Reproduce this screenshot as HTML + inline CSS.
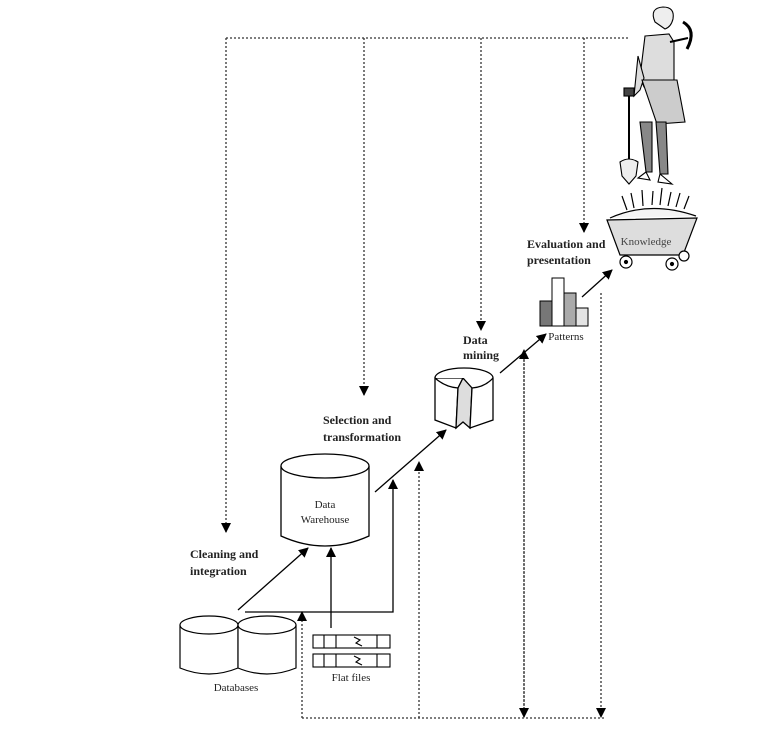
<!DOCTYPE html>
<html><head><meta charset="utf-8"><style>
html,body{margin:0;padding:0;background:#fff;}
svg{display:block;}
text{font-family:"Liberation Serif",serif;fill:#222;}
.b{font-weight:bold;font-size:12px;}
.n{font-size:11px;}
</style></head><body>
<svg width="771" height="737" viewBox="0 0 771 737" xmlns="http://www.w3.org/2000/svg">
<defs>
<marker id="a" markerWidth="10" markerHeight="10" refX="9" refY="5" orient="auto" markerUnits="userSpaceOnUse">
<path d="M0,0 L10,5 L0,10 z" fill="#000"/></marker>
</defs>
<g fill="none" stroke="#333" stroke-width="1.3" stroke-dasharray="2,2">
<path d="M226,38 H628"/>
<path d="M226,38 V532" marker-end="url(#a)"/>
<path d="M364,38 V395" marker-end="url(#a)"/>
<path d="M481,38 V330" marker-end="url(#a)"/>
<path d="M584,38 V232" marker-end="url(#a)"/>
<path d="M302,718 H606"/>
<path d="M302,718 V612" marker-end="url(#a)"/>
<path d="M419,718 V462" marker-end="url(#a)"/>
<path d="M524,713 V350" marker-end="url(#a)"/>
<path d="M524,360 V717" marker-end="url(#a)"/>
<path d="M601,293 V717" marker-end="url(#a)"/>
</g>
<g fill="none" stroke="#000" stroke-width="1.3">
<path d="M238,610 L308,548" marker-end="url(#a)"/>
<path d="M245,612 H393 V480" marker-end="url(#a)"/>
<path d="M331,628 V548" marker-end="url(#a)"/>
<path d="M375,492 L446,430" marker-end="url(#a)"/>
<path d="M500,373 L546,334" marker-end="url(#a)"/>
<path d="M582,297 L612,270" marker-end="url(#a)"/>
</g>
<!-- databases -->
<g fill="#fff" stroke="#000" stroke-width="1.2">
<path d="M180,625 V668 Q209,680 238,668 V625"/>
<ellipse cx="209" cy="625" rx="29" ry="9"/>
<path d="M238,625 V668 Q267,680 296,668 V625"/>
<ellipse cx="267" cy="625" rx="29" ry="9"/>
</g>
<text class="n" x="236" y="691" text-anchor="middle">Databases</text>
<!-- flat files -->
<g fill="#fff" stroke="#000" stroke-width="1.1">
<rect x="313" y="635" width="77" height="13"/>
<rect x="313" y="654" width="77" height="13"/>
<path d="M324,635v13M336,635v13M377,635v13M324,654v13M336,654v13M377,654v13"/>
<path d="M354,637 l6,3 -4,3 6,3M354,656 l6,3 -4,3 6,3"/>
</g>
<text class="n" x="351" y="681" text-anchor="middle">Flat files</text>
<!-- warehouse -->
<g fill="#fff" stroke="#000" stroke-width="1.3">
<path d="M281,466 V536 Q325,556 369,536 V466"/>
<ellipse cx="325" cy="466" rx="44" ry="12"/>
</g>
<text class="n" x="325" y="508" text-anchor="middle">Data</text>
<text class="n" x="325" y="523" text-anchor="middle">Warehouse</text>
<!-- data mining -->
<g stroke="#000" stroke-width="1.3">
<path d="M435,378 V420 L456,428 L458,388 L463,378 Z" fill="#fff"/>
<path d="M458,388 L463,378 L472,388 L470,428 L463,422 L456,428 Z" fill="#ddd"/>
<path d="M472,388 L470,428 L493,420 V378" fill="#fff"/>
<path d="M435,378 A29,10 0 0 1 493,378" fill="#fff"/>
<path d="M435,378 Q445,387 458,388 M472,388 Q485,387 493,378" fill="none"/>
</g>
<!-- patterns -->
<g stroke="#000" stroke-width="1">
<rect x="540" y="301" width="12" height="25" fill="#777"/>
<rect x="552" y="278" width="12" height="48" fill="#fff"/>
<rect x="564" y="293" width="12" height="33" fill="#aaa"/>
<rect x="576" y="308" width="12" height="18" fill="#e4e4e4"/>
</g>
<text class="n" x="566" y="340" text-anchor="middle">Patterns</text>
<!-- cart -->
<g stroke="#000" stroke-width="1.2">
<path d="M627,210 l-5,-14 M634,208 l-3,-15 M643,206 l-1,-16 M652,205 l1,-14 M660,205 l2,-17 M668,206 l3,-14 M676,207 l4,-14 M684,209 l5,-13" />
<path d="M610,218 Q650,200 696,216" fill="#f4f4f4"/>
<path d="M607,220 L620,255 L683,255 L697,218 Z" fill="#ddd"/>
<circle cx="626" cy="262" r="6" fill="#fff"/><circle cx="626" cy="262" r="1.5" fill="#000"/>
<circle cx="672" cy="264" r="6" fill="#fff"/><circle cx="672" cy="264" r="1.5" fill="#000"/>
<circle cx="684" cy="256" r="5" fill="#fff"/>
</g>
<text class="n" x="646" y="245" text-anchor="middle" style="fill:#444">Knowledge</text>
<!-- person -->
<g stroke="#000" stroke-width="1.1">
<path d="M655,22 q-6,-14 8,-15 q12,0 10,12 q-2,8 -8,10 z" fill="#eee"/>
<path d="M645,36 l24,-2 l5,8 l0,45 l-30,0 l-4,-10 z" fill="#ddd"/>
<path d="M644,78 l-4,12 l-6,6 l4,-40 z" fill="#ddd"/>
<path d="M642,80 l35,0 l8,42 l-28,2 z" fill="#ccc"/>
<path d="M640,122 l6,50 l6,0 l0,-50 z M656,122 l4,52 l8,0 l-2,-52 z" fill="#888"/>
<path d="M646,172 l-8,6 l12,2 z M660,174 l-2,8 l14,2 z" fill="#fff"/>
<path d="M629,96 V160" fill="none" stroke-width="2"/>
<path d="M620,162 q9,-6 18,0 l-2,14 l-7,8 l-7,-8 z" fill="#eee"/>
<path d="M670,42 l18,-4" fill="none" stroke-width="2"/>
<path d="M683,22 q14,8 4,27" fill="none" stroke-width="3"/>
<rect x="624" y="88" width="10" height="8" fill="#444"/>
</g>
<!-- labels -->
<text class="b" x="190" y="558">Cleaning and</text>
<text class="b" x="190" y="575">integration</text>
<text class="b" x="323" y="424">Selection and</text>
<text class="b" x="323" y="441">transformation</text>
<text class="b" x="463" y="344">Data</text>
<text class="b" x="463" y="359">mining</text>
<text class="b" x="527" y="248">Evaluation and</text>
<text class="b" x="527" y="264">presentation</text>
</svg>
</body></html>
